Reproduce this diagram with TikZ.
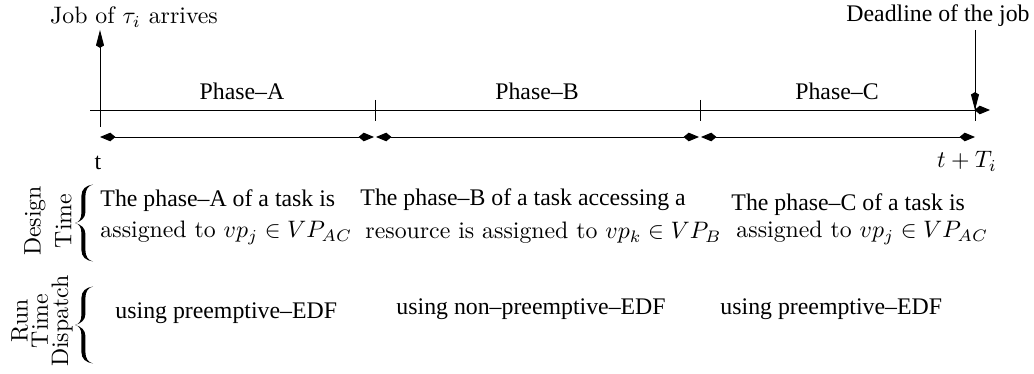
\documentclass[tikz,border=0pt]{standalone}
\usepackage{fontspec}
\newfontfamily\tms{Liberation Serif}
\usetikzlibrary{arrows.meta}

\begin{document}
\begin{tikzpicture}[x=0.42pt,y=-0.42pt,
    tip/.style={-{Kite[length=6.5pt,width=3.6pt,inset=2.2pt]}},
    vtip/.style={-{Kite[length=7.5pt,width=3.4pt,inset=1pt]}},
    span/.style={{Kite[length=6.5pt,width=3.6pt,inset=2.2pt]}-{Kite[length=6.5pt,width=3.6pt,inset=2.2pt]}},
    tlbl/.style={inner sep=0pt,font=\tms},
    mlbl/.style={inner sep=0pt},
    side/.style={inner sep=0pt,rotate=90,align=center}]
    \useasboundingbox (0,0) rectangle (1034,374);

    % time axis and ticks
    \coordinate (axL) at (90,110);
    \coordinate (axR) at (990,110);
    \draw[tip] (axL) -- (axR);
    \foreach \x/\n in {375/b, 700/c, 975/d} {
        \coordinate (tk\n) at (\x,100);
        \draw (tk\n) -- ++(0,21);
    }

    % arrival and deadline
    \node[mlbl,anchor=base] (job) at (134,24) {Job of $\tau_i$ arrives};
    \node[tlbl,anchor=base] (dead) at (938,22) {Deadline of the job};
    \coordinate (jb) at (100,127);
    \coordinate (jt) at (100,30);
    \coordinate (dt) at (975,30);
    \coordinate (db) at (975,110);
    \draw[vtip] (jb) -- (jt);
    \draw[vtip] (dt) -- (db);

    % phases
    \node[tlbl,anchor=base] (pha) at (242,100) {Phase–A};
    \node[tlbl,anchor=base] (phb) at (537,100) {Phase–B};
    \node[tlbl,anchor=base] (phc) at (837,100) {Phase–C};
    \coordinate (p0) at (100,137);
    \coordinate (p1) at (374,137);
    \coordinate (p1r) at (376,137);
    \coordinate (p2) at (699,137);
    \coordinate (p2r) at (701,137);
    \coordinate (p3) at (975,137);
    \draw[span] (p0) -- (p1);
    \draw[span] (p1r) -- (p2);
    \draw[span] (p2r) -- (p3);
    \node[tlbl,anchor=base] (t0) at (98,170) {t};
    \node[mlbl,anchor=base] (t1) at (967,168) {$t+T_i$};

    % braces
    \foreach \y in {223,325} {
        \begin{scope}[shift={(84,\y)}]
            \fill (9,-38.5) .. controls (2,-37.5) and (-2.6,-34) .. (-2.6,-27) -- (-2.6,-10)
                .. controls (-2.6,-4) and (-5,-1) .. (-9,0)
                .. controls (-3,-1.5) and (1.4,-5) .. (1.4,-11) -- (1.4,-27)
                .. controls (1.4,-33) and (4,-37.5) .. (9,-38.5) -- cycle;
            \fill (9,38.5) .. controls (2,37.5) and (-2.6,34) .. (-2.6,27) -- (-2.6,10)
                .. controls (-2.6,4) and (-5,1) .. (-9,0)
                .. controls (-3,1.5) and (1.4,5) .. (1.4,11) -- (1.4,27)
                .. controls (1.4,33) and (4,37.5) .. (9,38.5) -- cycle;
        \end{scope}
    }

    % design time
    \node[side] (dsg) at (48,221) {Design\\[1pt]Time};
    \node[tlbl,anchor=west] (da1) at (100,201) {The phase–A of a task is};
    \node[mlbl,anchor=west] (da2) at (100,233) {assigned to $vp_j\in VP_{AC}$};
    \node[tlbl,anchor=west] (db1) at (360,200) {The phase–B of a task accessing a};
    \node[mlbl,anchor=west] (db2) at (365,233) {resource is assigned to $vp_k\in VP_B$};
    \node[tlbl,anchor=west] (dc1) at (731,205) {The phase–C of a task is};
    \node[mlbl,anchor=west] (dc2) at (736,233) {assigned to $vp_j\in VP_{AC}$};

    % run time dispatch
    \node[side] (rtd) at (42,321) {Run\\[-3.5pt]Time\\[-3.5pt]Dispatch};
    \node[tlbl,anchor=west] (ra) at (115,313) {using preemptive–EDF};
    \node[tlbl,anchor=west] (rb) at (396,309) {using non–preemptive–EDF};
    \node[tlbl,anchor=west] (rc) at (720,309) {using preemptive–EDF};
\end{tikzpicture}
\end{document}
